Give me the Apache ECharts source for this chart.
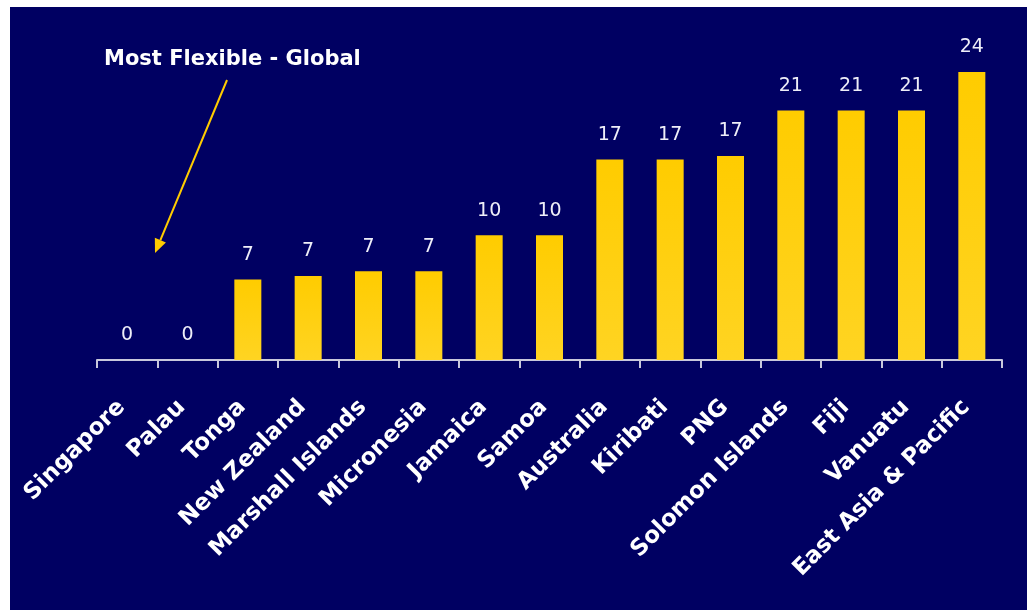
<!DOCTYPE html>
<html>
<head>
<meta charset="utf-8">
<script src="https://cdn.jsdelivr.net/npm/echarts@6/dist/echarts.min.js"></script>
<style>
  html, body { margin: 0; padding: 0; background: #ffffff; }
  #wrap { position: relative; width: 1027px; height: 610px; background: #ffffff; }
  #chart { position: absolute; left: 10px; top: 7px; width: 1017px; height: 603px; }
</style>
</head>
<body>
<div id="wrap"><div id="chart"></div></div>
<script>
const categories = ['Singapore', 'Palau', 'Tonga', 'New Zealand', 'Marshall Islands', 'Micronesia',
  'Jamaica', 'Samoa', 'Australia', 'Kiribati', 'PNG', 'Solomon Islands', 'Fiji', 'Vanuatu', 'East Asia & Pacific']
// bar heights, labels show them rounded
const values = [0, 0, 6.7, 7.0, 7.4, 7.4, 10.4, 10.4, 16.7, 16.7, 17.0, 20.8, 20.8, 20.8, 24.0]
const annotation = 'Most Flexible - Global'

const chart = echarts.init(document.getElementById('chart'))

// arrow from the annotation down to Singapore
const from = [217, 73]
const tip = [145, 246]
const dx = tip[0] - from[0], dy = tip[1] - from[1]
const len = Math.sqrt(dx * dx + dy * dy)
const ux = dx / len, uy = dy / len
const headLen = 14, headHalf = 6
const base = [tip[0] - headLen * ux, tip[1] - headLen * uy]

const option = {
  backgroundColor: '#000062',
  animation: false,
  grid: {
    left: 87,
    right: 25,
    top: 53,
    bottom: 250,
  },
  xAxis: {
    type: 'category',
    data: categories,
    axisLine: {
      lineStyle: { color: '#c8c8dc', width: 2 },
    },
    axisTick: {
      show: true,
      length: 8,
      lineStyle: { color: '#c8c8dc', width: 2 },
    },
    axisLabel: {
      interval: 0,
      rotate: 45,
      margin: 38,
      padding: [0, 8, 0, 0],
      color: '#ffffff',
      fontFamily: 'DejaVu Sans',
      fontWeight: 'bold',
      fontSize: 23,
    },
  },
  yAxis: {
    type: 'value',
    min: 0,
    max: 25,
    show: false,
    splitLine: { show: false },
  },
  series: [
    {
      type: 'bar',
      data: values,
      barWidth: 27,
      itemStyle: {
        color: new echarts.graphic.LinearGradient(0, 0, 0, 1, [
          { offset: 0, color: '#ffcc00' },
          { offset: 1, color: '#ffd422' },
        ]),
      },
      label: {
        show: true,
        position: 'top',
        distance: 15,
        color: '#eeeef8',
        fontFamily: 'DejaVu Sans',
        fontSize: 19,
        formatter: (p) => Math.round(p.value),
      },
    },
  ],
  graphic: [
    {
      type: 'text',
      left: 94,
      top: 42,
      style: {
        text: annotation,
        fill: '#ffffff',
        font: 'bold 21px "DejaVu Sans"',
      },
    },
    {
      type: 'line',
      shape: { x1: from[0], y1: from[1], x2: base[0], y2: base[1] },
      style: { stroke: '#ffcc00', lineWidth: 2 },
    },
    {
      type: 'polygon',
      shape: {
        points: [
          tip,
          [base[0] + headHalf * uy, base[1] - headHalf * ux],
          [base[0] - headHalf * uy, base[1] + headHalf * ux],
        ],
      },
      style: { fill: '#ffcc00' },
    },
  ],
}
chart.setOption(option)
</script>
</body>
</html>
